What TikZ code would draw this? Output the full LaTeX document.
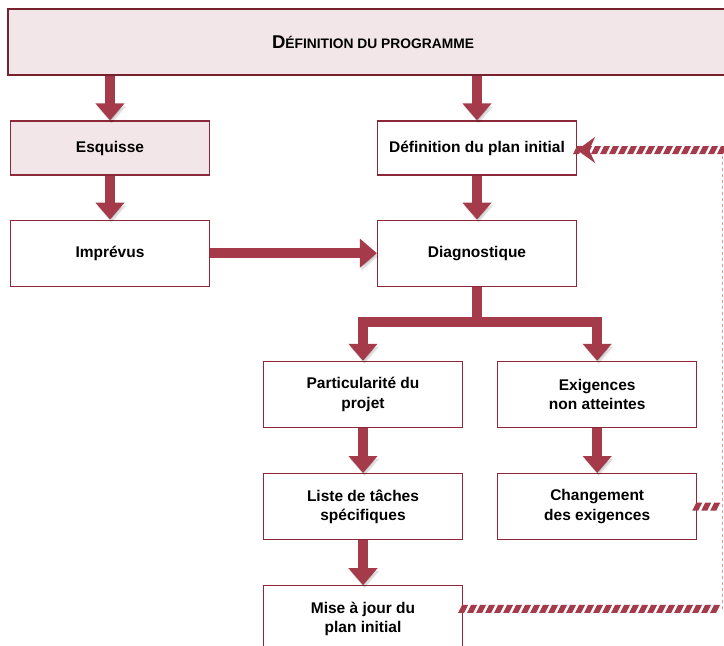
\documentclass[tikz,border=0pt]{standalone}
\usepackage{fontspec}
\setmainfont{Liberation Sans}
\usetikzlibrary{arrows.meta,positioning,calc,decorations.markings}

\definecolor{boxred}{RGB}{140,40,55}
\definecolor{arrowred}{RGB}{165,58,75}
\definecolor{boxpink}{RGB}{243,230,232}
\definecolor{linkpink}{RGB}{228,150,165}

\begin{document}
\begin{tikzpicture}[x=1pt, y=1pt,
    node distance=45pt,
    box/.style={rectangle, draw=boxred, line width=1.2pt, fill=white, minimum width=199pt, minimum height=66pt, align=center, font=\fontsize{15.5}{19.5}\selectfont\bfseries},
    lowbox/.style={box, minimum height=54pt},
    titlebox/.style={box, line width=2.8pt, draw=boxred!85!black, fill=boxpink, minimum width=730pt, minimum height=66pt},
    arrow/.style={-{Triangle[length=17pt, width=28pt]}, line width=10pt, arrowred,
        preaction={draw=black, opacity=0.12, transform canvas={shift={(1.5pt,-3pt)}}}},
    stripes/.style={decoration={markings, mark=between positions 0 and 1 step 9pt with {\fill[arrowred] (-5pt,-4pt) -- (1pt,-4pt) -- (5pt,4pt) -- (-1pt,4pt) -- cycle;}}, postaction={decorate}},
    back/.style={white, line width=8pt, stripes},
    guide/.style={linkpink, line width=0.8pt, dashed}
]
\useasboundingbox (0,0) rectangle (724,-646);

% Main flow
\node[titlebox] (prog) at (373,-42) {\fontsize{18.5}{18}\selectfont D\fontsize{13.8}{18}\selectfont ÉFINITION DU PROGRAMME};
\node[lowbox, fill=boxpink] (esq) at (110,-148) {Esquisse};
\node[lowbox] (defp) at (477,-148) {Définition du plan initial};
\node[box, below=44pt of esq] (impr) {Imprévus};
\node[box, below=44pt of defp] (diag) {Diagnostique};
\node[box, below=74pt of diag, xshift=-114pt] (part) {Particularité du\\projet};
\node[box, right=34pt of part] (exig) {Exigences\\non atteintes};
\node[box, below=of part] (liste) {Liste de tâches\\spécifiques};
\node[box, below=of exig] (chg) {Changement\\des exigences};
\node[box, below=of liste] (maj) {Mise à jour du\\plan initial};

% Arrows
\draw[arrow] (prog.south -| esq) -- (esq);
\draw[arrow] (prog.south -| defp) -- (defp);
\draw[arrow] (esq) -- (impr);
\draw[arrow] (defp) -- (diag);
\draw[arrow] (impr) -- (diag);
\coordinate[below=35pt of diag.south] (split);
\draw[arrow] (diag.south) -- (split) -| (part.north);
\draw[arrow] (diag.south) -- (split) -| (exig.north);
\draw[arrow] (part) -- (liste);
\draw[arrow] (liste) -- (maj);
\draw[arrow] (exig) -- (chg);

% Feedback to the initial plan
\coordinate (rtop) at (722,-150);
\coordinate (rbot) at ([yshift=10pt]maj.east -| rtop);
\draw[guide] (rtop) -- (rbot);
\draw[back] (chg.east) -- (chg.east -| rtop);
\draw[back] ([yshift=10pt]maj.east) -- (rbot);
\draw[back, -{Stealth[arrowred, length=18pt, width=26pt, inset=6pt]}] (rtop) -- (defp.east |- rtop);

\end{tikzpicture}
\end{document}
